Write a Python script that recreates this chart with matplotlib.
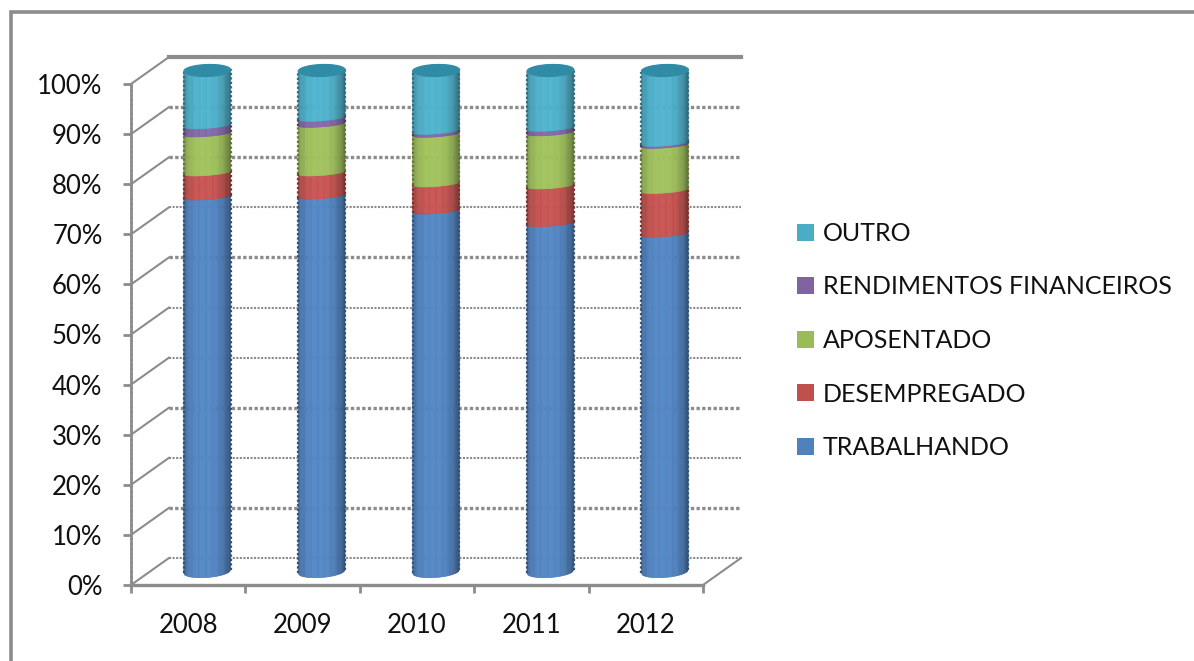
import numpy as np
import matplotlib
matplotlib.use("Agg")
import matplotlib.pyplot as plt
from matplotlib.collections import PolyCollection
from matplotlib.lines import Line2D
from matplotlib.patches import Patch, Polygon

years = ['2008', '2009', '2010', '2011', '2012']
trabalhando = [74.8, 75.0, 72.0, 69.5, 67.4]
desempregado = [4.8, 4.6, 5.4, 7.5, 8.7]
aposentado = [7.8, 9.7, 9.9, 10.6, 9.0]
rendimentos = [1.6, 1.2, 0.6, 0.9, 0.4]
outro = [11.0, 9.5, 12.1, 11.5, 14.5]

series_names = ['TRABALHANDO', 'DESEMPREGADO', 'APOSENTADO', 'RENDIMENTOS FINANCEIROS', 'OUTRO']
series_values = [trabalhando, desempregado, aposentado, rendimentos, outro]
series_colors = ['#4f81bd', '#c0504d', '#9bbb59', '#8064a2', '#4bacc6']
y_ticks = [0, 10, 20, 30, 40, 50, 60, 70, 80, 90, 100]
grid_widths = [1.5, 2.4, 1.5, 2.4, 1.5, 1.5, 2.4, 1.5, 2.4, 2.4, 3.0]

W, H = 1194, 661
GRAY = '#8c8c8c'
plt.rcParams['font.family'] = ['Lato', 'DejaVu Sans']

fig = plt.figure(figsize=(W / 100, H / 100), dpi=100)
# plot box in pixels: front wall 131..703, 585..84
ax = fig.add_axes([131 / W, 1 - 585 / H, 572 / W, 501 / H])
ax.set_xlim(0, 5)
ax.set_ylim(0, 100)
ax.patch.set_alpha(0)

# depth of the fake 3d box, in data units
dx = 38 / 114.4
dy = 27 / 5.01

# back wall and side wall
for v, lw in zip(y_ticks, grid_widths):
    ls = '-' if v == 100 else (0, (1, 0.7))
    ax.plot([dx, 5 + dx], [v + dy, v + dy], color=GRAY, lw=lw, ls=ls, clip_on=False, zorder=1)
    ax.plot([0, dx], [v, v + dy], color=GRAY, lw=1.5, clip_on=False, zorder=1)
ax.plot([5, 5 + dx], [0, dy], color=GRAY, lw=1.5, clip_on=False, zorder=1)


def shade(color, u):
    # darker towards the sides of the cylinder
    rgb = np.array(matplotlib.colors.to_rgb(color))
    f = 1.04 - 0.32 * abs(u + 0.1) ** 3
    return tuple(np.clip(rgb * f, 0, 1))


half_w = 0.205
b = 1.2
b_inner = 0.55
tilt = 0.35
us = np.linspace(-1, 1, 41)
tops = np.cumsum(np.array(series_values), axis=0)
bow = np.sqrt(1 - us ** 2)

for i in range(len(years)):
    cx = i + 0.5 + dx / 2
    base = dy / 2
    for s, color in enumerate(series_colors):
        low = base + (tops[s - 1][i] if s > 0 else 0)
        high = base + tops[s][i]
        low_curve = tilt * us - (b if s == 0 else b_inner) * bow
        high_curve = tilt * us - (b if s == len(series_colors) - 1 else b_inner) * bow
        polys = []
        cols = []
        for k in range(len(us) - 1):
            x0 = cx + half_w * us[k]
            x1 = cx + half_w * us[k + 1]
            polys.append([(x0, low + low_curve[k]), (x1, low + low_curve[k + 1]),
                          (x1, high + high_curve[k + 1]), (x0, high + high_curve[k])])
            cols.append(shade(color, (us[k] + us[k + 1]) / 2))
        ax.add_collection(PolyCollection(polys, facecolors=cols, edgecolors=cols,
                                         linewidths=0.4, clip_on=False, zorder=3))
        # jagged side edges
        edge = tuple(np.array(matplotlib.colors.to_rgb(color)) * 0.62)
        for side in (-1, 1):
            ax.plot([cx + side * half_w] * 2, [low + side * tilt, high + side * tilt], color=edge,
                    lw=1.6, ls=(0, (1, 1)), clip_on=False, zorder=4)
    # top cap
    t = np.linspace(0, 2 * np.pi, 80)
    top = base + tops[-1][i]
    cap = np.column_stack([cx + half_w * np.cos(t), top + 0.15 * np.cos(t) + b * np.sin(t)])
    ax.add_patch(Polygon(cap, closed=True, fc='#2f8ba6', ec='#2f8ba6', lw=0.8, clip_on=False, zorder=5))

# axes
ax.set_yticks(y_ticks)
ax.set_yticklabels([str(v) + '%' for v in y_ticks], fontsize=18.5, color='#111111')
ax.set_xticks(range(6))
ax.set_xticklabels([])
ax.set_xticks(np.arange(len(years)) + 0.5, minor=True)
ax.set_xticklabels(years, minor=True, fontsize=18.5, color='#111111')
ax.tick_params(axis='y', length=5.5, width=2, color=GRAY, pad=15)
ax.tick_params(axis='x', which='major', length=5.5, width=2, color=GRAY)
ax.tick_params(axis='x', which='minor', length=0, pad=20)
for name in ['top', 'right']:
    ax.spines[name].set_visible(False)
ax.spines['left'].set_color(GRAY)
ax.spines['left'].set_linewidth(2.0)
ax.spines['left'].set_linestyle((0, (1, 0.7)))
ax.spines['bottom'].set_color(GRAY)
ax.spines['bottom'].set_linewidth(2.4)

# legend, top entry first
handles = [Patch(facecolor=c, edgecolor='none') for c in series_colors[::-1]]
leg = fig.legend(handles, series_names[::-1], loc='center left',
                 bbox_to_anchor=(797 / W, 1 - 340.5 / H), frameon=False, fontsize=18,
                 handlelength=0.68, handleheight=0.68, handletextpad=0.36,
                 labelspacing=1.22, borderpad=0, borderaxespad=0)
for text in leg.get_texts():
    text.set_color('#111111')

# chart frame, only top and left show
fig.add_artist(Line2D([11 / W, 11 / W, 1], [0, 1 - 12 / H, 1 - 12 / H],
                      color=GRAY, lw=2.6, solid_joinstyle='miter'))

fig.savefig('out.png', dpi=100)
